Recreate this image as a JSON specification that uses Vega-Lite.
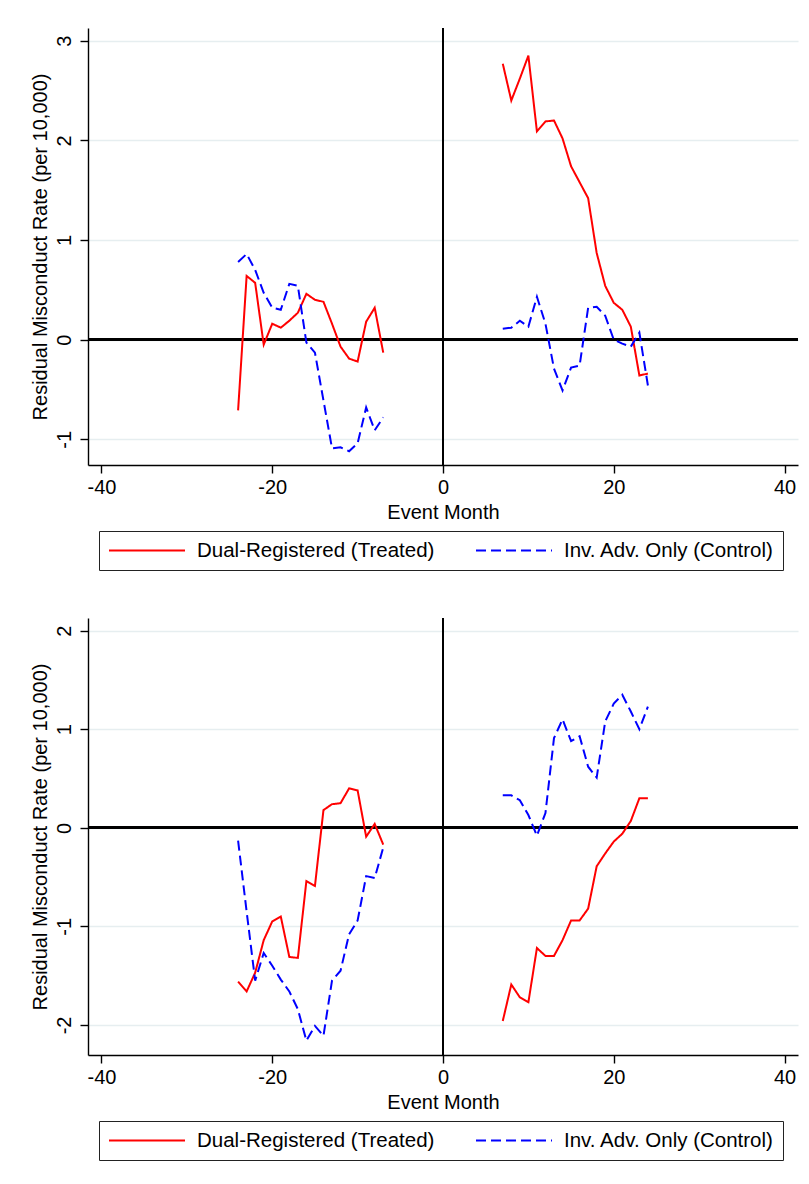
{
  "$schema": "https://vega.github.io/schema/vega-lite/v6.json",
  "background": "white",
  "padding": {"left": 30, "top": 27, "right": 5, "bottom": 5},
  "config": {
    "font": "Liberation Sans",
    "view": {"stroke": null},
    "axis": {
      "domainColor": "black", "domainWidth": 1.4, "tickColor": "black", "tickWidth": 1.4, "tickSize": 8,
      "labelFont": "Liberation Sans", "labelFontSize": 20, "labelColor": "black",
      "titleFont": "Liberation Sans", "titleFontSize": 20, "titleColor": "black", "titleFontWeight": "normal",
      "labelFlush": false, "labelOverlap": false, "gridColor": "#e6eef0", "gridWidth": 1.4,
      "labelExpr": "toString(datum.value)"
    },
    "legend": {
      "labelFont": "Liberation Sans", "labelFontSize": 20.5, "labelColor": "black", "labelLimit": 0
    }
  },
  "data": {"values": [
    {"panel":1,"group":"Dual-Registered (Treated)","period":"pre","month":-24,"value":-0.71},
    {"panel":1,"group":"Dual-Registered (Treated)","period":"pre","month":-23,"value":0.64},
    {"panel":1,"group":"Dual-Registered (Treated)","period":"pre","month":-22,"value":0.57},
    {"panel":1,"group":"Dual-Registered (Treated)","period":"pre","month":-21,"value":-0.05},
    {"panel":1,"group":"Dual-Registered (Treated)","period":"pre","month":-20,"value":0.16},
    {"panel":1,"group":"Dual-Registered (Treated)","period":"pre","month":-19,"value":0.12},
    {"panel":1,"group":"Dual-Registered (Treated)","period":"pre","month":-18,"value":0.19},
    {"panel":1,"group":"Dual-Registered (Treated)","period":"pre","month":-17,"value":0.27},
    {"panel":1,"group":"Dual-Registered (Treated)","period":"pre","month":-16,"value":0.46},
    {"panel":1,"group":"Dual-Registered (Treated)","period":"pre","month":-15,"value":0.40},
    {"panel":1,"group":"Dual-Registered (Treated)","period":"pre","month":-14,"value":0.38},
    {"panel":1,"group":"Dual-Registered (Treated)","period":"pre","month":-13,"value":0.16},
    {"panel":1,"group":"Dual-Registered (Treated)","period":"pre","month":-12,"value":-0.07},
    {"panel":1,"group":"Dual-Registered (Treated)","period":"pre","month":-11,"value":-0.19},
    {"panel":1,"group":"Dual-Registered (Treated)","period":"pre","month":-10,"value":-0.22},
    {"panel":1,"group":"Dual-Registered (Treated)","period":"pre","month":-9,"value":0.18},
    {"panel":1,"group":"Dual-Registered (Treated)","period":"pre","month":-8,"value":0.32},
    {"panel":1,"group":"Dual-Registered (Treated)","period":"pre","month":-7,"value":-0.13},
    {"panel":1,"group":"Dual-Registered (Treated)","period":"post","month":7,"value":2.77},
    {"panel":1,"group":"Dual-Registered (Treated)","period":"post","month":8,"value":2.40},
    {"panel":1,"group":"Dual-Registered (Treated)","period":"post","month":9,"value":2.62},
    {"panel":1,"group":"Dual-Registered (Treated)","period":"post","month":10,"value":2.85},
    {"panel":1,"group":"Dual-Registered (Treated)","period":"post","month":11,"value":2.09},
    {"panel":1,"group":"Dual-Registered (Treated)","period":"post","month":12,"value":2.19},
    {"panel":1,"group":"Dual-Registered (Treated)","period":"post","month":13,"value":2.20},
    {"panel":1,"group":"Dual-Registered (Treated)","period":"post","month":14,"value":2.02},
    {"panel":1,"group":"Dual-Registered (Treated)","period":"post","month":15,"value":1.74},
    {"panel":1,"group":"Dual-Registered (Treated)","period":"post","month":16,"value":1.58},
    {"panel":1,"group":"Dual-Registered (Treated)","period":"post","month":17,"value":1.42},
    {"panel":1,"group":"Dual-Registered (Treated)","period":"post","month":18,"value":0.87},
    {"panel":1,"group":"Dual-Registered (Treated)","period":"post","month":19,"value":0.54},
    {"panel":1,"group":"Dual-Registered (Treated)","period":"post","month":20,"value":0.37},
    {"panel":1,"group":"Dual-Registered (Treated)","period":"post","month":21,"value":0.30},
    {"panel":1,"group":"Dual-Registered (Treated)","period":"post","month":22,"value":0.13},
    {"panel":1,"group":"Dual-Registered (Treated)","period":"post","month":23,"value":-0.36},
    {"panel":1,"group":"Dual-Registered (Treated)","period":"post","month":24,"value":-0.34},
    {"panel":1,"group":"Inv. Adv. Only (Control)","period":"pre","month":-24,"value":0.78},
    {"panel":1,"group":"Inv. Adv. Only (Control)","period":"pre","month":-23,"value":0.86},
    {"panel":1,"group":"Inv. Adv. Only (Control)","period":"pre","month":-22,"value":0.70},
    {"panel":1,"group":"Inv. Adv. Only (Control)","period":"pre","month":-21,"value":0.47},
    {"panel":1,"group":"Inv. Adv. Only (Control)","period":"pre","month":-20,"value":0.32},
    {"panel":1,"group":"Inv. Adv. Only (Control)","period":"pre","month":-19,"value":0.30},
    {"panel":1,"group":"Inv. Adv. Only (Control)","period":"pre","month":-18,"value":0.56},
    {"panel":1,"group":"Inv. Adv. Only (Control)","period":"pre","month":-17,"value":0.54},
    {"panel":1,"group":"Inv. Adv. Only (Control)","period":"pre","month":-16,"value":-0.03},
    {"panel":1,"group":"Inv. Adv. Only (Control)","period":"pre","month":-15,"value":-0.13},
    {"panel":1,"group":"Inv. Adv. Only (Control)","period":"pre","month":-14,"value":-0.61},
    {"panel":1,"group":"Inv. Adv. Only (Control)","period":"pre","month":-13,"value":-1.09},
    {"panel":1,"group":"Inv. Adv. Only (Control)","period":"pre","month":-12,"value":-1.08},
    {"panel":1,"group":"Inv. Adv. Only (Control)","period":"pre","month":-11,"value":-1.12},
    {"panel":1,"group":"Inv. Adv. Only (Control)","period":"pre","month":-10,"value":-1.04},
    {"panel":1,"group":"Inv. Adv. Only (Control)","period":"pre","month":-9,"value":-0.68},
    {"panel":1,"group":"Inv. Adv. Only (Control)","period":"pre","month":-8,"value":-0.91},
    {"panel":1,"group":"Inv. Adv. Only (Control)","period":"pre","month":-7,"value":-0.78},
    {"panel":1,"group":"Inv. Adv. Only (Control)","period":"post","month":7,"value":0.11},
    {"panel":1,"group":"Inv. Adv. Only (Control)","period":"post","month":8,"value":0.12},
    {"panel":1,"group":"Inv. Adv. Only (Control)","period":"post","month":9,"value":0.19},
    {"panel":1,"group":"Inv. Adv. Only (Control)","period":"post","month":10,"value":0.13},
    {"panel":1,"group":"Inv. Adv. Only (Control)","period":"post","month":11,"value":0.43},
    {"panel":1,"group":"Inv. Adv. Only (Control)","period":"post","month":12,"value":0.16},
    {"panel":1,"group":"Inv. Adv. Only (Control)","period":"post","month":13,"value":-0.29},
    {"panel":1,"group":"Inv. Adv. Only (Control)","period":"post","month":14,"value":-0.51},
    {"panel":1,"group":"Inv. Adv. Only (Control)","period":"post","month":15,"value":-0.28},
    {"panel":1,"group":"Inv. Adv. Only (Control)","period":"post","month":16,"value":-0.26},
    {"panel":1,"group":"Inv. Adv. Only (Control)","period":"post","month":17,"value":0.32},
    {"panel":1,"group":"Inv. Adv. Only (Control)","period":"post","month":18,"value":0.33},
    {"panel":1,"group":"Inv. Adv. Only (Control)","period":"post","month":19,"value":0.24},
    {"panel":1,"group":"Inv. Adv. Only (Control)","period":"post","month":20,"value":0.00},
    {"panel":1,"group":"Inv. Adv. Only (Control)","period":"post","month":21,"value":-0.04},
    {"panel":1,"group":"Inv. Adv. Only (Control)","period":"post","month":22,"value":-0.07},
    {"panel":1,"group":"Inv. Adv. Only (Control)","period":"post","month":23,"value":0.07},
    {"panel":1,"group":"Inv. Adv. Only (Control)","period":"post","month":24,"value":-0.46},
    {"panel":2,"group":"Dual-Registered (Treated)","period":"pre","month":-24,"value":-1.56},
    {"panel":2,"group":"Dual-Registered (Treated)","period":"pre","month":-23,"value":-1.66},
    {"panel":2,"group":"Dual-Registered (Treated)","period":"pre","month":-22,"value":-1.47},
    {"panel":2,"group":"Dual-Registered (Treated)","period":"pre","month":-21,"value":-1.14},
    {"panel":2,"group":"Dual-Registered (Treated)","period":"pre","month":-20,"value":-0.95},
    {"panel":2,"group":"Dual-Registered (Treated)","period":"pre","month":-19,"value":-0.90},
    {"panel":2,"group":"Dual-Registered (Treated)","period":"pre","month":-18,"value":-1.31},
    {"panel":2,"group":"Dual-Registered (Treated)","period":"pre","month":-17,"value":-1.32},
    {"panel":2,"group":"Dual-Registered (Treated)","period":"pre","month":-16,"value":-0.54},
    {"panel":2,"group":"Dual-Registered (Treated)","period":"pre","month":-15,"value":-0.59},
    {"panel":2,"group":"Dual-Registered (Treated)","period":"pre","month":-14,"value":0.18},
    {"panel":2,"group":"Dual-Registered (Treated)","period":"pre","month":-13,"value":0.24},
    {"panel":2,"group":"Dual-Registered (Treated)","period":"pre","month":-12,"value":0.25},
    {"panel":2,"group":"Dual-Registered (Treated)","period":"pre","month":-11,"value":0.40},
    {"panel":2,"group":"Dual-Registered (Treated)","period":"pre","month":-10,"value":0.38},
    {"panel":2,"group":"Dual-Registered (Treated)","period":"pre","month":-9,"value":-0.09},
    {"panel":2,"group":"Dual-Registered (Treated)","period":"pre","month":-8,"value":0.04},
    {"panel":2,"group":"Dual-Registered (Treated)","period":"pre","month":-7,"value":-0.17},
    {"panel":2,"group":"Dual-Registered (Treated)","period":"post","month":7,"value":-1.96},
    {"panel":2,"group":"Dual-Registered (Treated)","period":"post","month":8,"value":-1.59},
    {"panel":2,"group":"Dual-Registered (Treated)","period":"post","month":9,"value":-1.72},
    {"panel":2,"group":"Dual-Registered (Treated)","period":"post","month":10,"value":-1.77},
    {"panel":2,"group":"Dual-Registered (Treated)","period":"post","month":11,"value":-1.22},
    {"panel":2,"group":"Dual-Registered (Treated)","period":"post","month":12,"value":-1.30},
    {"panel":2,"group":"Dual-Registered (Treated)","period":"post","month":13,"value":-1.30},
    {"panel":2,"group":"Dual-Registered (Treated)","period":"post","month":14,"value":-1.14},
    {"panel":2,"group":"Dual-Registered (Treated)","period":"post","month":15,"value":-0.94},
    {"panel":2,"group":"Dual-Registered (Treated)","period":"post","month":16,"value":-0.94},
    {"panel":2,"group":"Dual-Registered (Treated)","period":"post","month":17,"value":-0.82},
    {"panel":2,"group":"Dual-Registered (Treated)","period":"post","month":18,"value":-0.39},
    {"panel":2,"group":"Dual-Registered (Treated)","period":"post","month":19,"value":-0.26},
    {"panel":2,"group":"Dual-Registered (Treated)","period":"post","month":20,"value":-0.14},
    {"panel":2,"group":"Dual-Registered (Treated)","period":"post","month":21,"value":-0.06},
    {"panel":2,"group":"Dual-Registered (Treated)","period":"post","month":22,"value":0.07},
    {"panel":2,"group":"Dual-Registered (Treated)","period":"post","month":23,"value":0.30},
    {"panel":2,"group":"Dual-Registered (Treated)","period":"post","month":24,"value":0.30},
    {"panel":2,"group":"Inv. Adv. Only (Control)","period":"pre","month":-24,"value":-0.13},
    {"panel":2,"group":"Inv. Adv. Only (Control)","period":"pre","month":-23,"value":-0.85},
    {"panel":2,"group":"Inv. Adv. Only (Control)","period":"pre","month":-22,"value":-1.55},
    {"panel":2,"group":"Inv. Adv. Only (Control)","period":"pre","month":-21,"value":-1.27},
    {"panel":2,"group":"Inv. Adv. Only (Control)","period":"pre","month":-20,"value":-1.40},
    {"panel":2,"group":"Inv. Adv. Only (Control)","period":"pre","month":-19,"value":-1.54},
    {"panel":2,"group":"Inv. Adv. Only (Control)","period":"pre","month":-18,"value":-1.66},
    {"panel":2,"group":"Inv. Adv. Only (Control)","period":"pre","month":-17,"value":-1.84},
    {"panel":2,"group":"Inv. Adv. Only (Control)","period":"pre","month":-16,"value":-2.16},
    {"panel":2,"group":"Inv. Adv. Only (Control)","period":"pre","month":-15,"value":-2.01},
    {"panel":2,"group":"Inv. Adv. Only (Control)","period":"pre","month":-14,"value":-2.11},
    {"panel":2,"group":"Inv. Adv. Only (Control)","period":"pre","month":-13,"value":-1.55},
    {"panel":2,"group":"Inv. Adv. Only (Control)","period":"pre","month":-12,"value":-1.45},
    {"panel":2,"group":"Inv. Adv. Only (Control)","period":"pre","month":-11,"value":-1.08},
    {"panel":2,"group":"Inv. Adv. Only (Control)","period":"pre","month":-10,"value":-0.94},
    {"panel":2,"group":"Inv. Adv. Only (Control)","period":"pre","month":-9,"value":-0.49},
    {"panel":2,"group":"Inv. Adv. Only (Control)","period":"pre","month":-8,"value":-0.51},
    {"panel":2,"group":"Inv. Adv. Only (Control)","period":"pre","month":-7,"value":-0.20},
    {"panel":2,"group":"Inv. Adv. Only (Control)","period":"post","month":7,"value":0.33},
    {"panel":2,"group":"Inv. Adv. Only (Control)","period":"post","month":8,"value":0.33},
    {"panel":2,"group":"Inv. Adv. Only (Control)","period":"post","month":9,"value":0.28},
    {"panel":2,"group":"Inv. Adv. Only (Control)","period":"post","month":10,"value":0.13},
    {"panel":2,"group":"Inv. Adv. Only (Control)","period":"post","month":11,"value":-0.08},
    {"panel":2,"group":"Inv. Adv. Only (Control)","period":"post","month":12,"value":0.15},
    {"panel":2,"group":"Inv. Adv. Only (Control)","period":"post","month":13,"value":0.91},
    {"panel":2,"group":"Inv. Adv. Only (Control)","period":"post","month":14,"value":1.10},
    {"panel":2,"group":"Inv. Adv. Only (Control)","period":"post","month":15,"value":0.88},
    {"panel":2,"group":"Inv. Adv. Only (Control)","period":"post","month":16,"value":0.93},
    {"panel":2,"group":"Inv. Adv. Only (Control)","period":"post","month":17,"value":0.62},
    {"panel":2,"group":"Inv. Adv. Only (Control)","period":"post","month":18,"value":0.51},
    {"panel":2,"group":"Inv. Adv. Only (Control)","period":"post","month":19,"value":1.08},
    {"panel":2,"group":"Inv. Adv. Only (Control)","period":"post","month":20,"value":1.26},
    {"panel":2,"group":"Inv. Adv. Only (Control)","period":"post","month":21,"value":1.35},
    {"panel":2,"group":"Inv. Adv. Only (Control)","period":"post","month":22,"value":1.18},
    {"panel":2,"group":"Inv. Adv. Only (Control)","period":"post","month":23,"value":1.00},
    {"panel":2,"group":"Inv. Adv. Only (Control)","period":"post","month":24,"value":1.23}
  ]},
  "spacing": 46,
  "resolve": {
    "scale": {"y": "independent", "color": "independent", "strokeDash": "independent"},
    "legend": {"color": "independent", "strokeDash": "independent"}
  },
  "vconcat": [
    {
      "width": 710,
      "height": 437,
      "transform": [{"filter": "datum.panel === 1"}],
      "layer": [
        {"mark": {"type": "rule", "color": "black", "strokeWidth": 2}, "encoding": {"y": {"datum": 0, "type": "quantitative"}}},
        {"mark": {"type": "rule", "color": "black", "strokeWidth": 1.6}, "encoding": {"x": {"datum": 0, "type": "quantitative"}}},
        {
          "mark": {"type": "line", "strokeWidth": 2},
          "encoding": {
            "x": {"field": "month", "type": "quantitative", "scale": {"domain": [-41.58, 41.58], "nice": false, "zero": false},
                  "axis": {"values": [-40, -20, 0, 20, 40], "title": "Event Month", "grid": false, "labelPadding": 4, "titlePadding": 5}},
            "y": {"field": "value", "type": "quantitative", "scale": {"domain": [-1.258, 3.128], "nice": false, "zero": false},
                  "axis": {"values": [-1, 0, 1, 2, 3], "title": "Residual Misconduct Rate (per 10,000)", "grid": true, "labelAngle": -90, "labelPadding": 6, "titlePadding": 4}},
            "color": {"field": "group", "type": "nominal", "scale": {"domain": ["Dual-Registered (Treated)", "Inv. Adv. Only (Control)"], "range": ["#ff0000", "#0000ff"]},
                      "legend": {"title": null, "orient": "none", "legendX": 11, "legendY": 503, "direction": "horizontal", "columns": 2,
                                 "symbolType": "M-1,0L7,0", "symbolSize": 361, "symbolStrokeWidth": 2, "labelOffset": 68, "columnPadding": 37,
                                 "padding": 9, "strokeColor": "#222222", "fillColor": "white", "labelFontSize": 20.5, "labelLimit": 0}},
            "strokeDash": {"field": "group", "type": "nominal", "scale": {"domain": ["Dual-Registered (Treated)", "Inv. Adv. Only (Control)"], "range": [[1, 0], [10, 5]]},
                           "legend": {"title": null, "orient": "none", "legendX": 11, "legendY": 503, "direction": "horizontal", "columns": 2,
                                 "symbolType": "M-1,0L7,0", "symbolSize": 361, "symbolStrokeWidth": 2, "labelOffset": 68, "columnPadding": 37,
                                 "padding": 9, "strokeColor": "#222222", "fillColor": "white", "labelFontSize": 20.5, "labelLimit": 0}},
            "detail": {"field": "period"}
          }
        }
      ]
    },
    {
      "width": 710,
      "height": 437,
      "transform": [{"filter": "datum.panel === 2"}],
      "layer": [
        {"mark": {"type": "rule", "color": "black", "strokeWidth": 2}, "encoding": {"y": {"datum": 0, "type": "quantitative"}}},
        {"mark": {"type": "rule", "color": "black", "strokeWidth": 1.6}, "encoding": {"x": {"datum": 0, "type": "quantitative"}}},
        {
          "mark": {"type": "line", "strokeWidth": 2},
          "encoding": {
            "x": {"field": "month", "type": "quantitative", "scale": {"domain": [-41.58, 41.58], "nice": false, "zero": false},
                  "axis": {"values": [-40, -20, 0, 20, 40], "title": "Event Month", "grid": false, "labelPadding": 4, "titlePadding": 5}},
            "y": {"field": "value", "type": "quantitative", "scale": {"domain": [-2.305, 2.129], "nice": false, "zero": false},
                  "axis": {"values": [-2, -1, 0, 1, 2], "title": "Residual Misconduct Rate (per 10,000)", "grid": true, "labelAngle": -90, "labelPadding": 6, "titlePadding": 4}},
            "color": {"field": "group", "type": "nominal", "scale": {"domain": ["Dual-Registered (Treated)", "Inv. Adv. Only (Control)"], "range": ["#ff0000", "#0000ff"]},
                      "legend": {"title": null, "orient": "none", "legendX": 11, "legendY": 503, "direction": "horizontal", "columns": 2,
                                 "symbolType": "M-1,0L7,0", "symbolSize": 361, "symbolStrokeWidth": 2, "labelOffset": 68, "columnPadding": 37,
                                 "padding": 9, "strokeColor": "#222222", "fillColor": "white", "labelFontSize": 20.5, "labelLimit": 0}},
            "strokeDash": {"field": "group", "type": "nominal", "scale": {"domain": ["Dual-Registered (Treated)", "Inv. Adv. Only (Control)"], "range": [[1, 0], [10, 5]]},
                           "legend": {"title": null, "orient": "none", "legendX": 11, "legendY": 503, "direction": "horizontal", "columns": 2,
                                 "symbolType": "M-1,0L7,0", "symbolSize": 361, "symbolStrokeWidth": 2, "labelOffset": 68, "columnPadding": 37,
                                 "padding": 9, "strokeColor": "#222222", "fillColor": "white", "labelFontSize": 20.5, "labelLimit": 0}},
            "detail": {"field": "period"}
          }
        }
      ]
    }
  ]
}
